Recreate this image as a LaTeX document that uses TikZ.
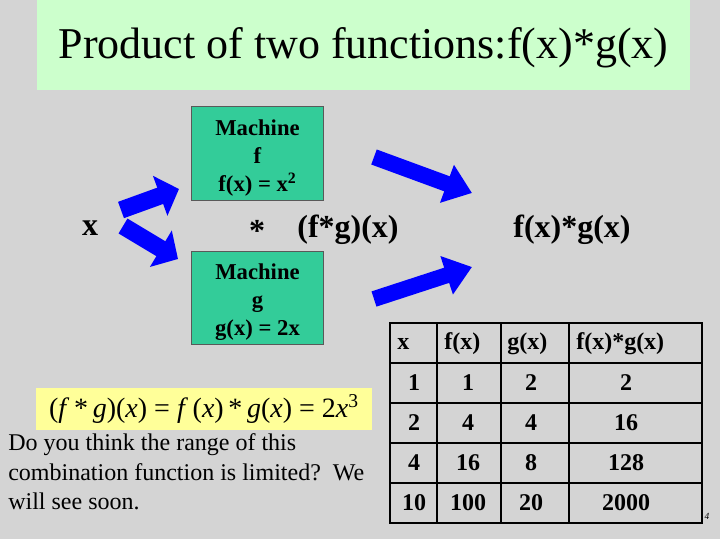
\documentclass[tikz,border=0pt]{standalone}
\usepackage{fontspec}
\setmainfont{Liberation Serif}
\usetikzlibrary{arrows.meta}
\definecolor{slidebg}{RGB}{212,212,212}
\definecolor{titlegreen}{RGB}{204,255,204}
\definecolor{machteal}{RGB}{51,204,153}
\definecolor{noteyellow}{RGB}{255,255,153}
\tikzset{
  mach/.style={draw=black!65, line width=0.8pt, fill=machteal, minimum width=99pt, minimum height=70pt, inner sep=0pt},
  machtxt/.style={font=\fontsize{17}{21}\selectfont\bfseries, align=center, inner sep=0pt},
  lbl/.style={font=\fontsize{24}{28}\selectfont\bfseries, inner sep=0pt},
  cell/.style={font=\fontsize{18}{21}\selectfont\bfseries, inner sep=0pt},
  smallarr/.style={line width=13pt, blue, -{Triangle[length=15pt,width=31pt]}},
  bigarr/.style={line width=12pt, blue, -{Triangle[length=20pt,width=29pt]}},
}

\begin{document}
\begin{tikzpicture}[x=0.75pt, y=-0.75pt]
\useasboundingbox[fill=slidebg] (0,0) rectangle (720,539);
\fill[titlegreen] (37,0) rectangle (690,90);
\node[font=\fontsize{33}{38}\selectfont, inner sep=0pt] (title) at (363.5,48)
  {Product of two functions:f(x)*g(x)};
\node[mach] (mf) at (257.5,153.5) {};
\node[mach] (mg) at (257.5,298) {};
\node[machtxt] (mft) at (257.5,158) {Machine\\ f\\ f(x) = x\textsuperscript{2}};
\node[machtxt] (mgt) at (257.5,302) {Machine\\ g\\ g(x) = 2x};
\node[lbl] (x) at (90,228) {x};
\node[lbl] (star) at (257,231) {*};
\node[lbl] (fg) at (348,230) {(f*g)(x)};
\node[lbl] (prod) at (572,230) {f(x)*g(x)};
% block arrows
\coordinate (a1) at (121,210); \coordinate (a2) at (179,189);
\coordinate (b1) at (123,226); \coordinate (b2) at (178,259);
\coordinate (c1) at (374,157); \coordinate (c2) at (472,193);
\coordinate (d1) at (374,299); \coordinate (d2) at (472,267);
\draw[smallarr] (a1) -- (a2);
\draw[smallarr] (b1) -- (b2);
\draw[bigarr] (c1) -- (c2);
\draw[bigarr] (d1) -- (d2);
% table
\draw[line width=1.5pt] (390,323) rectangle (702,523);
\foreach \cx in {437,501,569} \draw[line width=1.2pt] (\cx,323) -- (\cx,523);
\foreach \cy in {363,403,443,483} \draw[line width=1.2pt] (390,\cy) -- (702,\cy);
\node[cell, anchor=west] (h1) at (397,344) {x};
\node[cell, anchor=west] (h2) at (444,344) {f(x)};
\node[cell, anchor=west] (h3) at (507,344) {g(x)};
\node[cell, anchor=west] (h4) at (576,344) {f(x)*g(x)};
\foreach \a/\b/\c/\d [count=\r] in {1/1/2/2, 2/4/4/16, 4/16/8/128, 10/100/20/2000} {
  \pgfmathsetmacro\yy{343+40*\r}
  \node[cell] (r\r a) at (414,\yy) {\a};
  \node[cell] (r\r b) at (468,\yy) {\b};
  \node[cell] (r\r c) at (531,\yy) {\c};
  \node[cell] (r\r d) at (626,\yy) {\d};
}
\node[font=\fontsize{7}{8}\selectfont\itshape] (pg) at (707,516) {4};
% formula and note
\node[fill=noteyellow, minimum width=252pt, minimum height=31.5pt, font=\fontsize{21}{24}\selectfont] (form) at (204,409)
  {(\textit{f}\,*\,\textit{g})(\textit{x}) = \textit{f}\,(\textit{x})\,*\,\textit{g}(\textit{x}) = 2\textit{x}\textsuperscript{3}};
\node[font=\fontsize{18}{22}\selectfont, align=left, anchor=west, inner sep=0pt] (note) at (8,472)
  {Do you think the range of this\\combination function is limited?\ \ We\\will see soon.};
\end{tikzpicture}
\end{document}
